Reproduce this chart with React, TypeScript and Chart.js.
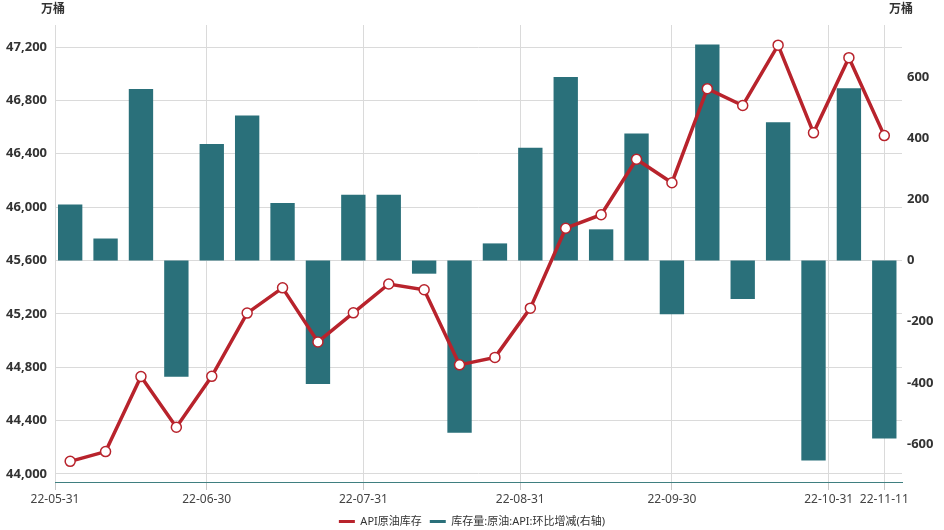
import React, { useEffect, useRef } from "react";
import Chart from "chart.js/auto";

// weekly data (Fridays)
const weekDates = [
  "2022-06-03", "2022-06-10", "2022-06-17", "2022-06-24", "2022-07-01", "2022-07-08",
  "2022-07-15", "2022-07-22", "2022-07-29", "2022-08-05", "2022-08-12", "2022-08-19",
  "2022-08-26", "2022-09-02", "2022-09-09", "2022-09-16", "2022-09-23", "2022-09-30",
  "2022-10-07", "2022-10-14", "2022-10-21", "2022-10-28", "2022-11-04", "2022-11-11",
];
const inventory = [
  44095, 44168, 44730, 44350, 44732, 45206, 45395, 44990, 45208, 45424, 45381, 44818,
  44874, 45243, 45842, 45943, 46359, 46183, 46888, 46762, 47214, 46557, 47120, 46536,
];
const weeklyChange = [
  183, 72, 561, -380, 381, 474, 188, -404, 215, 215, -43, -563,
  56, 369, 600, 102, 415, -176, 706, -126, 452, -654, 563, -582,
];
const tickDates = ["2022-05-31", "2022-06-30", "2022-07-31", "2022-08-31", "2022-09-30", "2022-10-31", "2022-11-11"];
const leftTicks = [44000, 44400, 44800, 45200, 45600, 46000, 46400, 46800, 47200];
const rightTicks = [-600, -400, -200, 0, 200, 400, 600];
const lineLabel = "API原油库存";
const barLabel = "库存量:原油:API:环比增减(右轴)";
const unitLabel = "万桶";

const START = Date.UTC(2022, 4, 31);
const toDay = (s: string) => {
  const [y, m, d] = s.split("-").map(Number);
  return Math.round((Date.UTC(y, m - 1, d) - START) / 86400000);
};
const shortDate = (s: string) => s.slice(2);

const FONT = "'Noto Sans', 'Noto Sans CJK SC', sans-serif";

const unitPlugin = {
  id: "units",
  afterDraw(chart: any) {
    const { ctx, chartArea } = chart;
    ctx.save();
    ctx.font = `bold 12px ${FONT}`;
    ctx.fillStyle = "#333";
    ctx.textAlign = "center";
    ctx.textBaseline = "middle";
    ctx.fillText(unitLabel, chartArea.left - 2, 10);
    ctx.fillText(unitLabel, chartArea.right - 1, 10);
    ctx.restore();
  },
};

const App = () => {
  const chartRef = useRef<HTMLCanvasElement>(null);
  const chartInstance = useRef<Chart | null>(null);

  useEffect(() => {
    if (!chartRef.current) return;
    Chart.defaults.font.family = FONT;
    const xs = weekDates.map(toDay);
    const tickDays = tickDates.map(toDay);

    chartInstance.current = new Chart(chartRef.current, {
      type: "bar",
      data: {
        datasets: [
          {
            type: "line",
            label: lineLabel,
            data: xs.map((x, i) => ({ x, y: inventory[i] })),
            yAxisID: "y",
            borderColor: "#b8232c",
            backgroundColor: "#b8232c",
            borderWidth: 3.5,
            pointRadius: 5,
            pointBorderWidth: 1.5,
            pointBackgroundColor: "#ffffff",
            pointBorderColor: "#b8232c",
            tension: 0,
            order: 0,
          } as any,
          {
            type: "bar",
            label: barLabel,
            data: xs.map((x, i) => ({ x, y: weeklyChange[i] })),
            yAxisID: "y1",
            backgroundColor: "#2a707a",
            borderColor: "#2a707a",
            borderWidth: 0,
            categoryPercentage: 0.8,
            barPercentage: 0.86,
            order: 1,
          } as any,
        ],
      },
      options: {
        responsive: true,
        maintainAspectRatio: false,
        animation: false,
        layout: { padding: { top: 25, left: 0, right: 0, bottom: -7 } },
        plugins: {
          tooltip: { enabled: false },
          legend: {
            position: "bottom",
            labels: {
              boxWidth: 16,
              boxHeight: 3,
              padding: 8,
              color: "#333",
              font: { size: 11 },
              generateLabels: (chart: any) =>
                Chart.defaults.plugins.legend.labels
                  .generateLabels(chart)
                  .map((l: any) => ({ ...l, lineWidth: 0 })),
            },
          },
        },
        scales: {
          x: {
            type: "linear",
            min: 0,
            max: 167.5,
            offset: false,
            afterBuildTicks: (scale: any) => {
              scale.ticks = tickDays.map((v) => ({ value: v }));
            },
            afterFit: (scale: any) => {
              scale.height = 26;
            },
            ticks: {
              autoSkip: false,
              maxRotation: 0,
              padding: 2,
              color: "#444",
              font: { size: 12 },
              callback: (v: any) => {
                const idx = tickDays.indexOf(Number(v));
                return idx >= 0 ? shortDate(tickDates[idx]) : "";
              },
            },
            grid: {
              offset: false,
              color: "#dadada",
              tickLength: 8,
              tickColor: "#c8c8c8",
            },
            border: { color: "#3f7f80", width: 1 },
          },
          y: {
            position: "left",
            min: 43940,
            max: 47365,
            afterBuildTicks: (scale: any) => {
              scale.ticks = leftTicks.map((v) => ({ value: v }));
            },
            afterFit: (scale: any) => {
              scale.width = 55;
            },
            ticks: {
              padding: 8,
              color: "#333",
              font: { size: 13, weight: "bold" },
              callback: (v: any) => Number(v).toLocaleString("en-US"),
            },
            grid: { color: "#dadada", drawTicks: false },
            border: { display: false },
          },
          y1: {
            position: "right",
            min: -724,
            max: 770,
            afterBuildTicks: (scale: any) => {
              scale.ticks = rightTicks.map((v) => ({ value: v }));
            },
            afterFit: (scale: any) => {
              scale.width = 42;
            },
            ticks: {
              padding: 5,
              color: "#333",
              font: { size: 13, weight: "bold" },
            },
            grid: { display: false, drawTicks: false },
            border: { display: false },
          },
        },
      } as any,
      plugins: [unitPlugin],
    });

    return () => {
      chartInstance.current?.destroy();
    };
  }, []);

  return (
    <div style={{ position: "fixed", left: 0, top: 0, width: 944, height: 530, background: "#fff" }}>
      <canvas ref={chartRef} />
    </div>
  );
};

export default App;
